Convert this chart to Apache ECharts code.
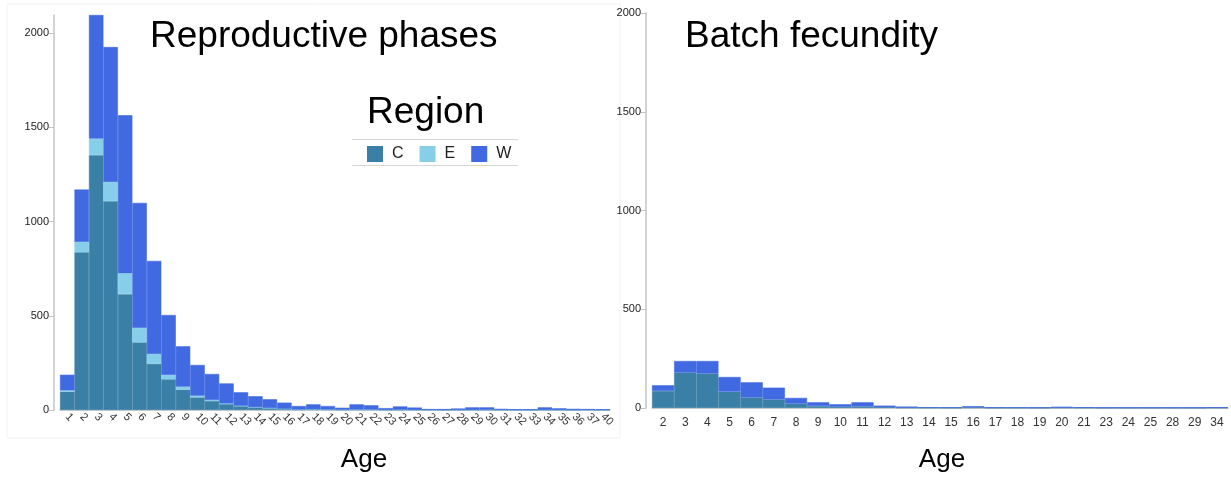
<!DOCTYPE html>
<html>
<head>
<meta charset="utf-8">
<script src="https://cdn.jsdelivr.net/npm/echarts@6/dist/echarts.min.js"></script>
<style>html,body{margin:0;padding:0;background:#fff}#c{width:1231px;height:480px}</style>
</head>
<body>
<div id="c"></div>
<script>
// Left panel: Reproductive phases
const leftAges = ['1','2','3','4','5','6','7','8','9','10','11','12','13','14','15','16','17','18','19','20','21','22','23','24','25','26','27','28','29','30','31','32','33','34','35','36','37','40'];
const leftC = [97,837,1352,1108,615,359,245,163,108,67,48,32,21,14,10,6,3,4,3,2,3,3,1,2,1,1,0,1,1,2,1,0,0,1,1,0,1,0];
const leftE = [7,55,88,102,111,77,52,23,16,9,5,3,2,1,1,1,0,0,0,0,0,0,0,0,0,0,0,0,0,0,0,0,0,0,0,0,0,0];
const leftW = [83,278,656,716,838,663,494,318,214,163,138,106,71,58,46,32,18,26,18,10,27,22,9,17,12,4,5,7,13,12,5,4,4,13,8,6,4,4];

// Right panel: Batch fecundity
const rightAges = ['2','3','4','5','6','7','8','9','10','11','12','13','14','15','16','17','18','19','20','21','23','24','25','28','29','34'];
const rightC = [86,179,174,83,53,43,22,10,6,8,4,2,1,1,3,1,1,1,2,1,1,1,1,1,1,1];
const rightW = [29,59,64,74,77,60,29,19,13,21,8,5,3,2,6,2,2,1,4,3,1,1,1,1,1,3];

const yTicks = [0,500,1000,1500,2000];
const colC = '#3a80a6', colE = '#87ceeb', colW = '#4169e1';

const leftMax = Math.max(...leftAges.map((_, i) => leftC[i] + leftE[i] + leftW[i]));

const font = 'Liberation Sans, Arial, Helvetica, sans-serif';
const axisCol = '#c4c4c4';

function xAxisCfg(grid, data, rotate) {
  return {
    type: 'category', gridIndex: grid, data: data,
    axisLine: {lineStyle: {color: axisCol, width: 1.5}},
    axisTick: {alignWithLabel: true, length: 5, lineStyle: {color: axisCol}},
    axisLabel: {interval: 0, rotate: rotate, fontSize: rotate ? 11 : 12, color: '#333', fontFamily: font, margin: rotate ? 5 : 9}
  };
}
function yAxisCfg(grid, max) {
  return {
    type: 'value', gridIndex: grid, min: 0, max: max, offset: 6,
    axisLine: {show: true, lineStyle: {color: axisCol, width: 1.5}},
    axisTick: {show: true, length: 5, lineStyle: {color: axisCol}, customValues: yTicks},
    axisLabel: {fontSize: 11, color: '#222', fontFamily: font, margin: 5, customValues: yTicks, formatter: v => String(v)},
    splitLine: {show: false}
  };
}
function bar(name, stack, ax, data, color) {
  return {name: name, type: 'bar', stack: stack, xAxisIndex: ax, yAxisIndex: ax, data: data,
    itemStyle: {color: color, borderColor: color, borderWidth: 0.6}, barCategoryGap: '0%'};
}

const chart = echarts.init(document.getElementById('c'), null, {renderer: 'canvas'});
chart.setOption({
  animation: false,
  textStyle: {fontFamily: font},
  grid: [
    {left: 60, right: 621, top: 15, bottom: 70},
    {left: 652, right: 3, top: 13, bottom: 72}
  ],
  xAxis: [xAxisCfg(0, leftAges, -45), xAxisCfg(1, rightAges, 0)],
  yAxis: [yAxisCfg(0, leftMax), yAxisCfg(1, 2000)],
  legend: {
    data: ['C','E','W'], left: 367, top: 146, padding: 0, icon: 'rect', itemWidth: 14, itemHeight: 14,
    itemGap: 16, textStyle: {fontSize: 16, color: '#222', fontFamily: font, padding: [0,0,0,5]}
  },
  series: [
    bar('C', 'L', 0, leftC, colC),
    bar('E', 'L', 0, leftE, colE),
    bar('W', 'L', 0, leftW, colW),
    bar('C', 'R', 1, rightC, colC),
    bar('W', 'R', 1, rightW, colW)
  ],
  graphic: [
    {type: 'rect', shape: {x: 7, y: 4, width: 613, height: 434}, style: {fill: 'none', stroke: '#f3f3f3', lineWidth: 1}, silent: true, z: -1},
    {type: 'text', left: 150, top: 18, style: {text: 'Reproductive phases', font: '37px ' + font, fill: '#000'}},
    {type: 'text', left: 685, top: 18, style: {text: 'Batch fecundity', font: '37px ' + font, fill: '#000'}},
    {type: 'text', left: 367, top: 94, style: {text: 'Region', font: '37px ' + font, fill: '#000'}},
    {type: 'line', shape: {x1: 352, y1: 139.5, x2: 518, y2: 139.5}, style: {stroke: '#d6d6d6', lineWidth: 1}},
    {type: 'line', shape: {x1: 352, y1: 165.5, x2: 518, y2: 165.5}, style: {stroke: '#d6d6d6', lineWidth: 1}},
    {type: 'text', x: 364, y: 460, style: {text: 'Age', font: '26px ' + font, fill: '#000', align: 'center', verticalAlign: 'middle'}},
    {type: 'text', x: 942, y: 460, style: {text: 'Age', font: '26px ' + font, fill: '#000', align: 'center', verticalAlign: 'middle'}}
  ]
});
</script>
</body>
</html>
